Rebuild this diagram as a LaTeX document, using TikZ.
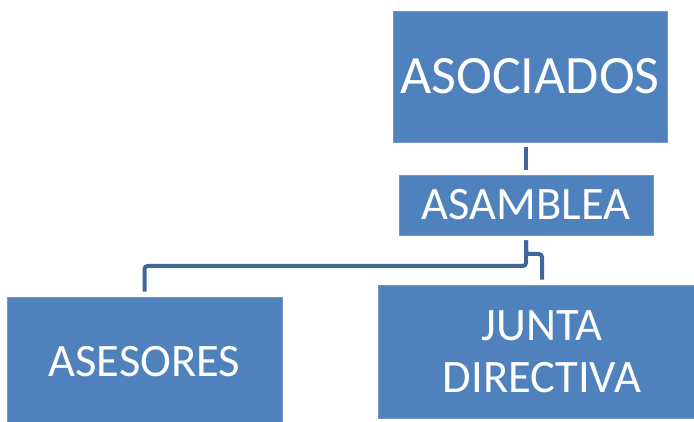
\documentclass[tikz,border=0pt]{standalone}
\usepackage{fontspec}
\setmainfont{Carlito}
\definecolor{boxblue}{HTML}{4F81BD}
\definecolor{boxedge}{HTML}{7396C6}
\definecolor{linkblue}{HTML}{3F6797}
\begin{document}
\begin{tikzpicture}[x=1pt,y=1pt,
  orgbox/.style={rectangle, fill=boxblue, draw=boxedge, line width=0.8pt,
    text=white, align=center, inner sep=0pt},
  conn/.style={draw=linkblue, line width=4pt, rounded corners=3pt,
    shorten <=5pt, shorten >=5pt}]
\useasboundingbox (0,0) rectangle (694,422);
\clip (0,0) rectangle (694,422);
\node[orgbox, minimum width=274pt, minimum height=131pt,
  font=\fontsize{54}{60}\selectfont] (asociados) at (530,345.5) {ASOCIADOS};
\node[orgbox, minimum width=254pt, minimum height=60pt,
  font=\fontsize{46.5}{52}\selectfont] (asamblea) at (526,217) {ASAMBLEA};
\node[orgbox, minimum width=275pt, minimum height=130pt,
  font=\fontsize{46.5}{52}\selectfont] (asesores) at (144.5,60) {ASESORES};
\node[orgbox, minimum width=328pt, minimum height=133pt,
  font=\fontsize{46.5}{52}\selectfont] (junta) at (542,70.5) {JUNTA\\DIRECTIVA};
\coordinate (h1) at (526,156);
\coordinate (h2) at (541,168);
\draw[conn] (asociados.south -| asamblea.north) -- (asamblea.north);
\draw[conn] (asamblea.south) -- (asamblea.south |- h1) -- (asesores.north |- h1) -- (asesores.north);
\draw[conn] (asamblea.south) -- (asamblea.south |- h2) -- (junta.north |- h2) -- (junta.north);
\end{tikzpicture}
\end{document}
